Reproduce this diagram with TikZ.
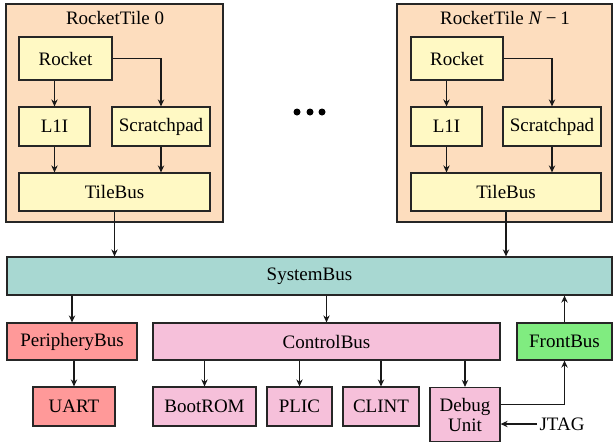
\documentclass[tikz,border=0pt]{standalone}
\usepackage{fontspec}
\setmainfont{Liberation Serif}
\newfontfamily\timesfont{Liberation Serif}
\usetikzlibrary{arrows.meta}
\definecolor{tilebg}{RGB}{253,221,190}
\definecolor{inner}{RGB}{255,249,196}
\definecolor{sysbus}{RGB}{168,216,210}
\definecolor{peri}{RGB}{255,153,153}
\definecolor{ctrl}{RGB}{246,192,218}
\definecolor{front}{RGB}{128,236,128}
\begin{document}
\begin{tikzpicture}[x=0.5pt,y=-0.5pt,
  font=\timesfont\fontsize{9.5}{11}\selectfont,
  box/.style={draw=black!85,line width=0.6pt,inner sep=0pt,align=center},
  tilebox/.style={box,fill=tilebg},
  inbox/.style={box,fill=inner},
  arr/.style={-{Stealth[length=3.5pt,width=3.2pt]},line width=0.6pt,black!90}]
\useasboundingbox (0,0) rectangle (613,441);
% tiles
\node[tilebox,minimum width=108.5pt,minimum height=109pt] (tile0) at (114.5,113) {};
\node (t0title) at (115,18) {RocketTile 0};
\node[inbox,minimum width=46.5pt,minimum height=21.5pt] (rocket0) at (65.5,58.5) {Rocket};
\node[inbox,minimum width=35.5pt,minimum height=19.5pt] (l1i0) at (54.5,126.5) {L1I};
\node[inbox,minimum width=49pt,minimum height=19.5pt] (scr0) at (161,126.5) {Scratchpad};
\node[inbox,minimum width=95.5pt,minimum height=19pt] (tb0) at (114.5,192) {TileBus};
\node[tilebox,minimum width=107.5pt,minimum height=109pt] (tile1) at (504.5,113) {};
\node (t1title) at (505,18) {RocketTile \textit{N}\hspace{0.2em}−\hspace{0.2em}1};
\node[inbox,minimum width=46pt,minimum height=21.5pt] (rocket1) at (457,58.5) {Rocket};
\node[inbox,minimum width=35.5pt,minimum height=19.5pt] (l1i1) at (446.5,126.5) {L1I};
\node[inbox,minimum width=49pt,minimum height=19.5pt] (scr1) at (552,126.5) {Scratchpad};
\node[inbox,minimum width=95pt,minimum height=19pt] (tb1) at (506,192) {TileBus};
% dots
\fill (297,112) circle (1.75pt) (310,112) circle (1.75pt) (322,112) circle (1.75pt);
% buses
\node[box,fill=sysbus,minimum width=302.5pt,minimum height=19pt] (sys) at (309.5,276) {SystemBus};
\node[box,fill=peri,minimum width=65pt,minimum height=18.5pt] (peri) at (72,341.5) {PeripheryBus};
\node[box,fill=peri,minimum width=41pt,minimum height=19.5pt] (uart) at (74,406.5) {UART};
\node[box,fill=ctrl,minimum width=173.5pt,minimum height=18.5pt] (ctrl) at (326.5,341.5) {ControlBus};
\node[box,fill=ctrl,minimum width=51.5pt,minimum height=19.5pt] (boot) at (204.5,406.5) {BootROM};
\node[box,fill=ctrl,minimum width=32.5pt,minimum height=19.5pt] (plic) at (299.5,406.5) {PLIC};
\node[box,fill=ctrl,minimum width=38pt,minimum height=19.5pt] (clint) at (381,406.5) {CLINT};
\node[box,fill=ctrl,minimum width=35pt,minimum height=27pt] (debug) at (465,414.5) {Debug\\[-1pt]Unit};
\node[box,fill=front,minimum width=47.5pt,minimum height=18.5pt] (front) at (564.5,341.5) {FrontBus};
\node[inner sep=1pt] (jtag) at (562,424) {JTAG};
% tile arrows
\foreach \i in {0,1}{
  \draw[arr] (rocket\i.south -| l1i\i) -- (l1i\i.north);
  \draw[arr] (rocket\i.east) -| (scr\i.north);
  \draw[arr] (l1i\i.south) -- (l1i\i.south |- tb\i.north);
  \draw[arr] (scr\i.south) -- (scr\i.south |- tb\i.north);
  \draw[arr] (tb\i.south) -- (tb\i.south |- sys.north);
}
% bus arrows
\draw[arr] (sys.south -| peri) -- (peri.north);
\draw[arr] (peri.south -| uart) -- (uart.north);
\draw[arr] (sys.south -| ctrl) -- (ctrl.north);
\draw[arr] (ctrl.south -| boot) -- (boot.north);
\draw[arr] (ctrl.south -| plic) -- (plic.north);
\draw[arr] (ctrl.south -| clint) -- (clint.north);
\draw[arr] (ctrl.south -| debug) -- (debug.north);
\draw[arr] (front.north) -- (front.north |- sys.south);
\draw[arr] ([yshift=5pt]debug.east) -| (front.south);
\draw[arr] (jtag.west) -- (jtag.west -| debug.east);
\end{tikzpicture}
\end{document}
